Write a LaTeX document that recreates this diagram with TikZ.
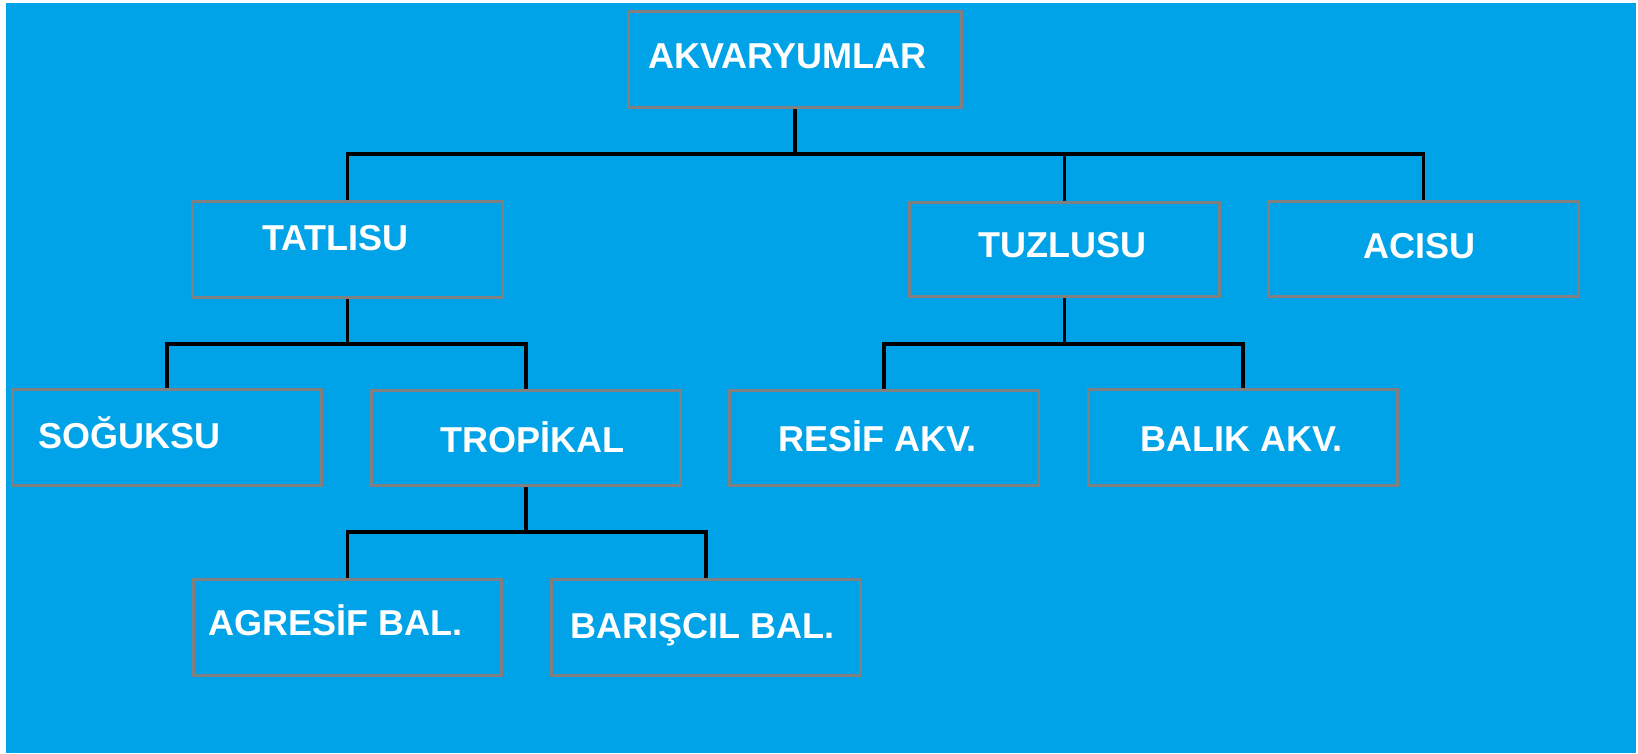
\documentclass[tikz,border=0pt]{standalone}
\usepackage{fontspec}
\setmainfont{Liberation Sans}
\definecolor{bgblue}{RGB}{0,162,232}
\definecolor{boxgray}{RGB}{128,128,128}

\begin{document}
\begin{tikzpicture}[x=1pt, y=-1pt,
        box/.style={draw=boxgray, line width=3pt, rectangle, inner sep=0pt, minimum width=309pt, minimum height=96pt},
        txt/.style={inner sep=0pt, anchor=base west, text=white, font=\fontsize{36}{40}\selectfont\bfseries},
        conn/.style={draw=black, line width=3.5pt}]
        % Background
        \useasboundingbox (0,0) rectangle (1638,753);
        \fill[white] (0,0) rectangle (1638,753);
        \fill[bgblue] (6,3) rectangle (1636,753);

        % Nodes
        \node (akv) at (795,59.5) [box, minimum width=333pt] {};
        \node (tatli) at (347.5,249.5) [box, minimum width=310pt] {};
        \node (tuzlu) at (1064.5,249) [box, minimum width=310pt, minimum height=94pt] {};
        \node (aci) at (1423.5,249) [box, minimum width=310pt, minimum height=95pt] {};
        \node (soguk) at (167,437.5) [box] {};
        \node (tropik) at (526,438) [box, minimum height=95pt] {};
        \node (resif) at (884,438) [box, minimum height=95pt] {};
        \node (balik) at (1243,437.5) [box] {};
        \node (agresif) at (347.5,627.5) [box, minimum width=308pt] {};
        \node (baris) at (706,627.5) [box] {};

        % Labels
        \node (akv-t) at (648,68) [txt] {AKVARYUMLAR};
        \node (tatli-t) at (262,250) [txt] {TATLISU};
        \node (tuzlu-t) at (978,257) [txt] {TUZLUSU};
        \node (aci-t) at (1363,258) [txt] {ACISU};
        \node (soguk-t) at (38,448) [txt] {SOĞUKSU};
        \node (tropik-t) at (440,452) [txt] {TROPİKAL};
        \node (resif-t) at (778,451) [txt] {RESİF AKV.};
        \node (balik-t) at (1140,451) [txt] {BALIK AKV.};
        \node (agresif-t) at (208,635) [txt] {AGRESİF BAL.};
        \node (baris-t) at (570,638) [txt] {BARIŞCIL BAL.};

        % Edges
        \coordinate (bus0) at (795,154);
        \coordinate (bus1) at (347.5,344);
        \coordinate (bus2) at (1064.5,344);
        \coordinate (bus3) at (526,532);
        \draw[conn] (akv.south) -- (bus0);
        \draw[conn] (tatli.north) |- (bus0) -| (aci.north);
        \draw[conn] (tuzlu.north) -- (tuzlu.north |- bus0);
        \draw[conn] (tatli.south) -- (bus1);
        \draw[conn] (soguk.north) |- (bus1) -| (tropik.north);
        \draw[conn] (tuzlu.south) -- (bus2);
        \draw[conn] (resif.north) |- (bus2) -| (balik.north);
        \draw[conn] (tropik.south) -- (bus3);
        \draw[conn] (agresif.north) |- (bus3) -| (baris.north);
    \end{tikzpicture}
\end{document}
